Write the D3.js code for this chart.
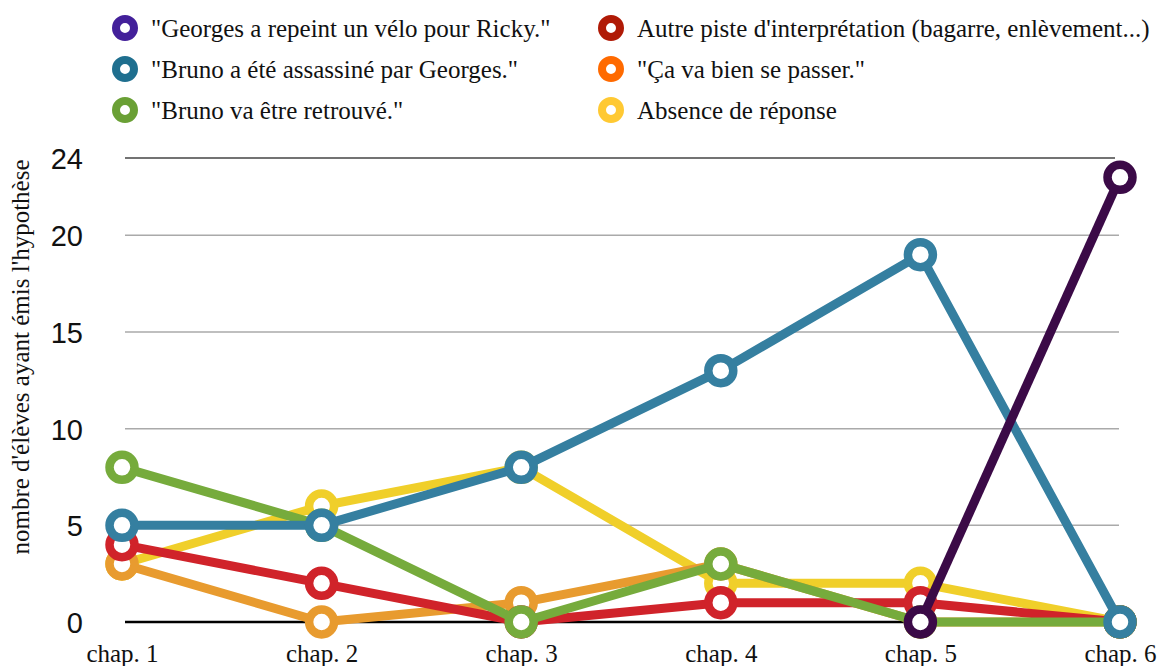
<!DOCTYPE html>
<html><head><meta charset="utf-8">
<script src="https://cdn.jsdelivr.net/npm/d3@7"></script>
<style>html,body{margin:0;padding:0;background:#fff;} svg{display:block;}</style>
</head><body>
<svg id="c" width="1167" height="666"></svg>
<script>
const chapters = ["chap. 1","chap. 2","chap. 3","chap. 4","chap. 5","chap. 6"];
const seriesNames = [
  "\"Georges a repeint un vélo pour Ricky.\"",
  "\"Bruno a été assassiné par Georges.\"",
  "\"Bruno va être retrouvé.\"",
  "Autre piste d'interprétation (bagarre, enlèvement...)",
  "\"Ça va bien se passer.\"",
  "Absence de réponse"
];
const georges = [null, null, null, null, 0, 23];
const assassine = [5, 5, 8, 13, 19, 0];
const retrouve = [8, 5, 0, 3, 0, 0];
const autre = [4, 2, 0, 1, 1, 0];
const bienPasser = [3, 0, 1, 3, 0, 0];
const absence = [3, 6, 8, 2, 2, 0];
const lineColors = ["#3b0a47", "#357fa0", "#76ab3c", "#d0232a", "#e89b2f", "#f0cf2a"];
const legendColors = ["#43209a", "#1f6f8f", "#6aa035", "#b01a06", "#ff6a00", "#ffc933"];
const yTicks = [0, 5, 10, 15, 20, 24];
const yTitle = "nombre d'élèves ayant émis l'hypothèse";

const values = [georges, assassine, retrouve, autre, bienPasser, absence];
const drawOrder = [5, 4, 3, 2, 1, 0];

const svg = d3.select("#c");
const x = d3.scalePoint().domain(chapters).range([122, 1120]);
const y = d3.scaleLinear().domain([0, 24]).range([622, 158]);

// gridlines
const grid = svg.append("g");
yTicks.forEach(t => {
  grid.append("line")
    .attr("x1", 125).attr("x2", t === 24 ? 1115 : 1119)
    .attr("y1", y(t)).attr("y2", y(t))
    .attr("stroke", t === 0 ? "#000" : (t === 24 ? "#444" : "#aaa"))
    .attr("stroke-width", t === 0 ? 2.5 : 1.5);
});

// y axis labels
const yAxis = d3.axisLeft(y).tickValues(yTicks).tickSize(0).tickPadding(0);
const ya = svg.append("g").attr("transform", "translate(83,0)").call(yAxis);
ya.select(".domain").remove();
ya.selectAll("text").attr("font-family", "Liberation Sans, Arial, sans-serif")
  .attr("font-size", 29).attr("fill", "#111").attr("dy", "0.36em");

// x axis labels
const xAxis = d3.axisBottom(x).tickSize(0).tickPadding(0);
const xa = svg.append("g").attr("transform", "translate(0,662)").call(xAxis);
xa.select(".domain").remove();
xa.selectAll("text").attr("font-family", "Liberation Serif, Times New Roman, serif")
  .attr("font-size", 25).attr("fill", "#111").attr("dy", "0");

// y title
svg.append("text")
  .attr("transform", "translate(29,357) rotate(-90)")
  .attr("text-anchor", "middle")
  .attr("font-family", "Liberation Serif, Times New Roman, serif")
  .attr("font-size", 25).attr("fill", "#111")
  .text(yTitle);

// series
const line = d3.line()
  .defined(d => d.v !== null)
  .x(d => x(d.c)).y(d => y(d.v));

drawOrder.forEach(i => {
  const pts = values[i].map((v, j) => ({c: chapters[j], v: v}));
  const g = svg.append("g");
  g.append("path").datum(pts).attr("d", line)
    .attr("fill", "none").attr("stroke", lineColors[i])
    .attr("stroke-width", 9).attr("stroke-linejoin", "round");
  g.selectAll("circle").data(pts.filter(d => d.v !== null)).enter().append("circle")
    .attr("cx", d => x(d.c)).attr("cy", d => y(d.v)).attr("r", 12.5)
    .attr("fill", "#fff").attr("stroke", lineColors[i]).attr("stroke-width", 8.5);
});

// legend
const legPos = [[125, 28], [125, 69], [125, 110], [611, 28], [611, 69], [611, 110]];
seriesNames.forEach((name, i) => {
  const [lx, ly] = legPos[i];
  svg.append("circle").attr("cx", lx).attr("cy", ly).attr("r", 9)
    .attr("fill", "#fff").attr("stroke", legendColors[i]).attr("stroke-width", 8);
  svg.append("text").attr("x", lx + 26).attr("y", ly + 9)
    .attr("font-family", "Liberation Serif, Times New Roman, serif")
    .attr("font-size", 25).attr("fill", "#111").text(name);
});
</script>
</body></html>
